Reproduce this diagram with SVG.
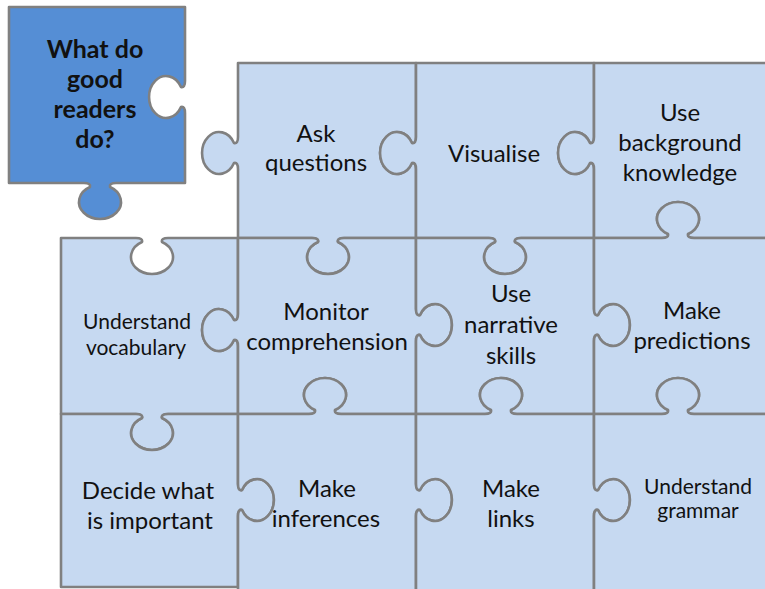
<svg xmlns="http://www.w3.org/2000/svg" width="765" height="589" viewBox="0 0 765 589">
<style>
.pc{fill:#C6D9F1;stroke:#808080;stroke-width:2.6;stroke-linejoin:round}
.ttl{fill:#558ED5;stroke:#808080;stroke-width:2.6;stroke-linejoin:round}
text{font-family:Lato,"Liberation Sans",sans-serif;fill:#111;text-anchor:middle}
.t{font-size:24px}
.s{font-size:21px}
.b{font-size:25px;font-weight:bold}
</style>
<rect width="765" height="589" fill="#fff"/>
<g id="title">
<path class="ttl" d="M 9,7 L 185,7 L 185,81 Q 185,88 181,87 A 17 21 0 1 0 181,107 Q 185,106 185,113 L 185,183 L 116,183 Q 109,183 110,187 A 21 17 0 1 1 90,187 Q 91,183 84,183 L 9,183 Z"/>
<text class="b" x="95" y="58">What do</text>
<text class="b" x="95" y="88">good</text>
<text class="b" x="95" y="118">readers</text>
<text class="b" x="95" y="148">do?</text>
</g>
<g id="ask-questions">
<path class="pc" d="M 238,63 L 416,63 L 416,137 Q 416,144 412,143 A 17 21 0 1 0 412,163 Q 416,162 416,169 L 416,238 L 344,238 Q 337,238 338,242 A 21 17 0 1 1 318,242 Q 319,238 312,238 L 238,238 L 238,169 Q 238,162 234,163 A 17 21 0 1 1 234,143 Q 238,144 238,137 Z"/>
<text class="t" x="316" y="142">Ask</text>
<text class="t" x="316" y="171">questions</text>
</g>
<g id="visualise">
<path class="pc" d="M 416,63 L 594,63 L 594,137 Q 594,144 590,143 A 17 21 0 1 0 590,163 Q 594,162 594,169 L 594,238 L 521,238 Q 514,238 515,242 A 21 17 0 1 1 495,242 Q 496,238 489,238 L 416,238 L 416,169 Q 416,162 412,163 A 17 21 0 1 1 412,143 Q 416,144 416,137 Z"/>
<text class="t" x="494" y="162">Visualise</text>
</g>
<g id="use-background-knowledge">
<path class="pc" d="M 594,63 L 780,63 L 780,238 L 694,238 Q 687,238 688,234 A 21 17 0 1 0 668,234 Q 669,238 662,238 L 594,238 L 594,169 Q 594,162 590,163 A 17 21 0 1 1 590,143 Q 594,144 594,137 Z"/>
<text class="t" x="680" y="121">Use</text>
<text class="t" x="680" y="151">background</text>
<text class="t" x="680" y="181">knowledge</text>
</g>
<g id="understand-vocabulary">
<path class="pc" d="M 61,238 L 136,238 Q 143,238 142,242 A 21 17 0 1 0 162,242 Q 161,238 168,238 L 238,238 L 238,314 Q 238,321 234,320 A 17 21 0 1 0 234,340 Q 238,339 238,346 L 238,414 L 168,414 Q 161,414 162,418 A 21 17 0 1 1 142,418 Q 143,414 136,414 L 61,414 Z"/>
<text class="s" x="137" y="329">Understand</text>
<text class="s" x="136" y="355">vocabulary</text>
</g>
<g id="monitor-comprehension">
<path class="pc" d="M 238,238 L 312,238 Q 319,238 318,242 A 21 17 0 1 0 338,242 Q 337,238 344,238 L 416,238 L 416,309 Q 416,316 420,315 A 17 21 0 1 1 420,335 Q 416,334 416,341 L 416,414 L 341,414 Q 334,414 335,410 A 21 17 0 1 0 315,410 Q 316,414 309,414 L 238,414 L 238,346 Q 238,339 234,340 A 17 21 0 1 1 234,320 Q 238,321 238,314 Z"/>
<text class="t" x="326" y="320">Monitor</text>
<text class="t" x="327" y="350">comprehension</text>
</g>
<g id="use-narrative-skills">
<path class="pc" d="M 416,238 L 489,238 Q 496,238 495,242 A 21 17 0 1 0 515,242 Q 514,238 521,238 L 594,238 L 594,309 Q 594,316 598,315 A 17 21 0 1 1 598,335 Q 594,334 594,341 L 594,414 L 517,414 Q 510,414 511,410 A 21 17 0 1 0 491,410 Q 492,414 485,414 L 416,414 L 416,341 Q 416,334 420,335 A 17 21 0 1 0 420,315 Q 416,316 416,309 Z"/>
<text class="t" x="511" y="302">Use</text>
<text class="t" x="511" y="333">narrative</text>
<text class="t" x="511" y="364">skills</text>
</g>
<g id="make-predictions">
<path class="pc" d="M 594,238 L 662,238 Q 669,238 668,234 A 21 17 0 1 1 688,234 Q 687,238 694,238 L 780,238 L 780,414 L 694,414 Q 687,414 688,410 A 21 17 0 1 0 668,410 Q 669,414 662,414 L 594,414 L 594,341 Q 594,334 598,335 A 17 21 0 1 0 598,315 Q 594,316 594,309 Z"/>
<text class="t" x="692" y="319">Make</text>
<text class="t" x="692" y="349">predictions</text>
</g>
<g id="decide-what-is-important">
<path class="pc" d="M 61,414 L 136,414 Q 143,414 142,418 A 21 17 0 1 0 162,418 Q 161,414 168,414 L 238,414 L 238,484 Q 238,491 242,490 A 17 21 0 1 1 242,510 Q 238,509 238,516 L 238,587 L 61,587 Z"/>
<text class="t" x="148" y="499">Decide what</text>
<text class="t" x="150" y="529">is important</text>
</g>
<g id="make-inferences">
<path class="pc" d="M 238,414 L 309,414 Q 316,414 315,410 A 21 17 0 1 1 335,410 Q 334,414 341,414 L 416,414 L 416,484 Q 416,491 420,490 A 17 21 0 1 1 420,510 Q 416,509 416,516 L 416,600 L 238,600 L 238,516 Q 238,509 242,510 A 17 21 0 1 0 242,490 Q 238,491 238,484 Z"/>
<text class="t" x="327" y="497">Make</text>
<text class="t" x="326" y="527">inferences</text>
</g>
<g id="make-links">
<path class="pc" d="M 416,414 L 485,414 Q 492,414 491,410 A 21 17 0 1 1 511,410 Q 510,414 517,414 L 594,414 L 594,484 Q 594,491 598,490 A 17 21 0 1 1 598,510 Q 594,509 594,516 L 594,600 L 416,600 L 416,516 Q 416,509 420,510 A 17 21 0 1 0 420,490 Q 416,491 416,484 Z"/>
<text class="t" x="511" y="497">Make</text>
<text class="t" x="511" y="527">links</text>
</g>
<g id="understand-grammar">
<path class="pc" d="M 594,414 L 662,414 Q 669,414 668,410 A 21 17 0 1 1 688,410 Q 687,414 694,414 L 780,414 L 780,600 L 594,600 L 594,516 Q 594,509 598,510 A 17 21 0 1 0 598,490 Q 594,491 594,484 Z"/>
<text class="s" x="698" y="494">Understand</text>
<text class="s" x="698" y="518">grammar</text>
</g>
<g id="connectors"/>
</svg>
